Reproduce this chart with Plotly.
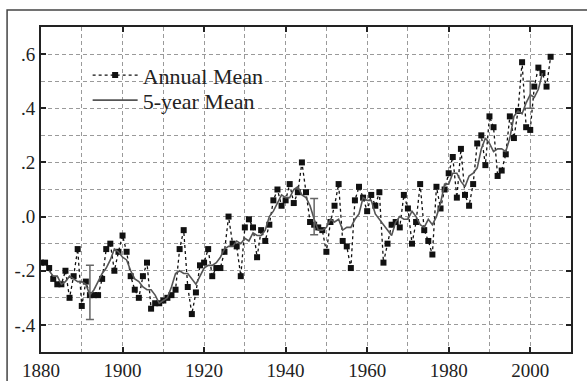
import plotly.graph_objects as go

years = list(range(1880, 2006))
annual_mean = [
    -0.17, -0.17, -0.19, -0.23, -0.25, -0.25, -0.20, -0.30, -0.22, -0.12,
    -0.33, -0.24, -0.29, -0.29, -0.29, -0.23, -0.12, -0.10, -0.20, -0.13,
    -0.07, -0.13, -0.22, -0.27, -0.30, -0.22, -0.17, -0.34, -0.32, -0.32,
    -0.31, -0.30, -0.29, -0.27, -0.12, -0.05, -0.26, -0.36, -0.28, -0.18,
    -0.17, -0.12, -0.22, -0.19, -0.19, -0.13, 0.00, -0.10, -0.11, -0.22,
    -0.04, -0.01, -0.04, -0.15, -0.05, -0.09, -0.03, 0.06, 0.10, 0.04,
    0.06, 0.12, 0.05, 0.09, 0.20, 0.09, -0.02, -0.03, -0.04, -0.05,
    -0.13, -0.02, 0.04, 0.12, -0.09, -0.11, -0.19, 0.06, 0.11, 0.07,
    0.02, 0.08, 0.04, 0.09, -0.17, -0.10, -0.03, -0.02, -0.04, 0.08,
    0.03, -0.10, -0.02, 0.12, -0.05, -0.09, -0.14, 0.11, 0.03, 0.10,
    0.16, 0.22, 0.07, 0.25, 0.08, 0.04, 0.12, 0.27, 0.30, 0.19,
    0.37, 0.33, 0.15, 0.17, 0.23, 0.37, 0.29, 0.39, 0.57, 0.33,
    0.32, 0.48, 0.55, 0.53, 0.48, 0.59,
]

five_year_years = list(range(1882, 2004))
five_year_mean = [
    -0.20, -0.22, -0.22, -0.25, -0.24, -0.22, -0.23, -0.24,
    -0.24, -0.25, -0.29, -0.27, -0.24, -0.21, -0.19, -0.16, -0.12, -0.13,
    -0.15, -0.16, -0.20, -0.23, -0.24, -0.26, -0.27, -0.27, -0.29, -0.32,
    -0.31, -0.30, -0.26, -0.21, -0.20, -0.21, -0.21, -0.23, -0.25, -0.22,
    -0.19, -0.18, -0.18, -0.17, -0.15, -0.12, -0.11, -0.11, -0.09, -0.10,
    -0.08, -0.09, -0.06, -0.07, -0.07, -0.05, 0.00, 0.02, 0.05, 0.08,
    0.07, 0.07, 0.10, 0.11, 0.08, 0.07, 0.04, -0.01, -0.05, -0.05,
    -0.04, -0.01, -0.02, -0.01, -0.05, -0.04, -0.04, -0.01, 0.01, 0.07,
    0.06, 0.06, 0.01, -0.01, -0.03, -0.05, -0.07, -0.02, 0.00, -0.01,
    -0.01, 0.02, 0.00, -0.03, -0.04, -0.01, -0.03, 0.00, 0.05, 0.12,
    0.12, 0.16, 0.16, 0.13, 0.11, 0.15, 0.16, 0.18, 0.25, 0.29,
    0.27, 0.24, 0.25, 0.25, 0.24, 0.29, 0.37, 0.39, 0.38, 0.42,
    0.45, 0.44, 0.47, 0.53,
]

err_years = [1892, 1947, 2000]
err_centers = [-0.28, 0.00, 0.45]
err_half = [0.10, 0.067, 0.05]

y_tick_vals = [-0.4, -0.2, 0.0, 0.2, 0.4, 0.6]
y_tick_text = ["-.4", "-.2", ".0", ".2", ".4", ".6"]
x_tick_vals = [1880, 1900, 1920, 1940, 1960, 1980, 2000]

FONT = "Liberation Serif, Times New Roman, serif"

fig = go.Figure()

fig.add_trace(go.Scatter(
    x=years, y=annual_mean, mode="lines+markers", name="Annual Mean",
    line=dict(color="#111111", width=1.3, dash="3px,3px"),
    marker=dict(symbol="square", size=6, color="#111111"),
    legend="legend",
))
fig.add_trace(go.Scatter(
    x=five_year_years, y=five_year_mean, mode="lines", name="5-year Mean",
    line=dict(color="#555555", width=1.6),
    legend="legend2",
))
fig.add_trace(go.Scatter(
    x=err_years, y=err_centers, mode="markers", showlegend=False,
    marker=dict(size=1, color="rgba(0,0,0,0)"),
    error_y=dict(type="data", array=err_half, visible=True,
                 color="#666666", thickness=1.5, width=4),
))

grid = dict(showgrid=True, gridcolor="#9a9a9a", gridwidth=1, griddash="4px,3px")
legend_common = dict(
    xanchor="left", yanchor="top", bgcolor="rgba(0,0,0,0)",
    font=dict(family=FONT, size=22, color="#222222"), itemwidth=45,
)

fig.update_layout(
    width=587, height=381,
    margin=dict(l=41, r=16, t=27, b=29, autoexpand=False),
    paper_bgcolor="white", plot_bgcolor="white",
    font=dict(family=FONT, size=19, color="#222222"),
    showlegend=True,
    legend=dict(x=0.088, y=0.916, **legend_common),
    legend2=dict(x=0.088, y=0.839, **legend_common),
    xaxis=dict(
        range=[1880, 2010], tickvals=x_tick_vals, ticks="inside", ticklen=5,
        tickwidth=1.5, tickcolor="#222222", automargin=False,
        showline=True, linecolor="#222222", linewidth=2, mirror="ticks",
        zeroline=False,
        minor=dict(dtick=10, tick0=1880, **grid), **grid,
    ),
    yaxis=dict(
        range=[-0.5, 0.7], tickvals=y_tick_vals, ticktext=y_tick_text,
        ticks="inside", ticklen=5, tickwidth=1.5, tickcolor="#222222",
        automargin=False,
        showline=True, linecolor="#222222", linewidth=2, mirror="ticks",
        zeroline=False,
        minor=dict(dtick=0.1, tick0=0, **grid), **grid,
    ),
    shapes=[dict(
        type="rect", xref="paper", yref="paper",
        x0=-0.064, x1=1.2, y0=-0.3, y1=1.052,
        line=dict(color="#444444", width=1.5), layer="above",
    )],
)

fig.write_html(
    "out.html",
    config={"displayModeBar": False},
    post_script="document.body.style.margin='0';document.body.style.overflow='hidden';",
)
